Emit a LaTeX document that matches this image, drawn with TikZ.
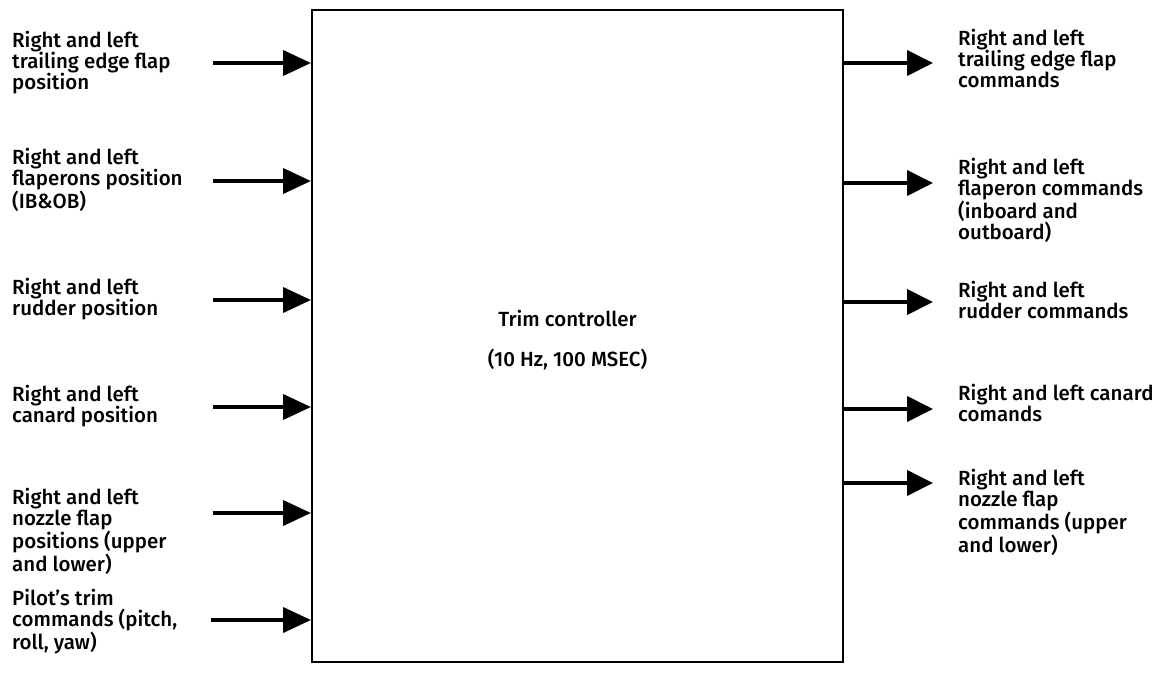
\documentclass[tikz,border=0pt]{standalone}
\usepackage{fontspec}
\setmainfont{Fira Sans}[UprightFont={* Medium}]
\usetikzlibrary{positioning,arrows.meta}
\tikzset{
  lbl/.style={font=\fontsize{20.5}{21}\selectfont, align=left, inner sep=0pt, anchor=west},
  inarr/.style={-{Triangle[length=28pt,width=25pt]}, line width=4pt},
  outarr/.style={-{Triangle[length=26pt,width=25pt]}, line width=4pt},
}
\begin{document}
\begin{tikzpicture}[x=1pt, y=-1pt]
\path[use as bounding box, fill=white] (0,0) rectangle (1170,675);

%% ---- le bloc central
\node[draw, line width=2pt, minimum width=531pt, minimum height=652pt, inner sep=0pt] (trim) at (577.5,336) {};
\node[font=\fontsize{20.5}{21}\selectfont, align=center, xshift=-10pt, yshift=-4pt] (trimlbl) at (trim.center)
  {Trim controller\\[19pt](10 Hz, 100 MSEC)};

%% ---- entrees, a gauche
\node[lbl] (ltef) at (12,62.5) {Right and left\\trailing edge flap\\position};
\node[lbl] (lflp) at (12,180)  {Right and left\\flaperons position\\(IB\&OB)};
\node[lbl] (lrud) at (12,299)  {Right and left\\rudder position};
\node[lbl] (lcan) at (12,406)  {Right and left\\canard position};
\node[lbl] (lnoz) at (12,531)  {Right and left\\nozzle flap\\positions (upper\\and lower)};
\node[lbl] (lpil) at (12,622)  {Pilot's trim\\commands (pitch,\\roll, yaw)};

\coordinate (ltefs) at (213,63);
\coordinate (lflps) at (213,181);
\coordinate (lruds) at (213,300);
\coordinate (lcans) at (213,407);
\coordinate (lnozs) at (213,513);
\coordinate (lpils) at (211,620);
\draw[inarr] (ltefs) -- (ltefs -| trim.west);
\draw[inarr] (lflps) -- (lflps -| trim.west);
\draw[inarr] (lruds) -- (lruds -| trim.west);
\draw[inarr] (lcans) -- (lcans -| trim.west);
\draw[inarr] (lnozs) -- (lnozs -| trim.west);
\draw[inarr] (lpils) -- (lpils -| trim.west);

%% ---- sorties, a droite
\node[lbl] (rtef) at (958,58)  {Right and left\\trailing edge flap\\commands};
\node[lbl] (rflp) at (958,200) {Right and left\\flaperon commands\\(inboard and\\outboard)};
\node[lbl] (rrud) at (958,300) {Right and left\\rudder commands};
\node[lbl] (rcan) at (958,403) {Right and left canard\\comands};
\node[lbl] (rnoz) at (958,512) {Right and left\\nozzle flap\\commands (upper\\and lower)};

\coordinate (rtefe) at (933,63);
\coordinate (rflpe) at (933,183);
\coordinate (rrude) at (933,302);
\coordinate (rcane) at (933,409);
\coordinate (rnoze) at (933,483);
\draw[outarr] (rtefe -| trim.east) -- (rtefe);
\draw[outarr] (rflpe -| trim.east) -- (rflpe);
\draw[outarr] (rrude -| trim.east) -- (rrude);
\draw[outarr] (rcane -| trim.east) -- (rcane);
\draw[outarr] (rnoze -| trim.east) -- (rnoze);
\end{tikzpicture}
\end{document}
